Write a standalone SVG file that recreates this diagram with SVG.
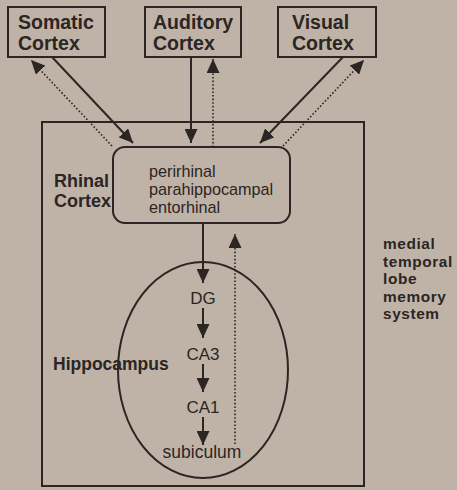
<svg xmlns="http://www.w3.org/2000/svg" width="457" height="490" viewBox="0 0 457 490">
<defs>
<style>
.box{fill:none;stroke:#2b2523;stroke-width:2}
.lbl{font-family:"Liberation Sans",Arial,sans-serif;font-weight:bold;fill:#2b2523}
.txt{font-family:"Liberation Sans",Arial,sans-serif;fill:#2b2523}
.solid{stroke:#2b2523;stroke-width:2;fill:none}
.dot{stroke:#2b2523;stroke-width:1.6;fill:none;stroke-dasharray:1.6 2}
</style>
<marker id="ah" markerUnits="userSpaceOnUse" markerWidth="14" markerHeight="13" refX="14" refY="6.5" orient="auto">
<path d="M0,0 L14,6.5 L0,13 Z" fill="#2b2523"/>
</marker>
</defs>
<rect width="457" height="490" fill="#bfb3a8"/>
<g id="outer"><rect class="box" x="42" y="122" width="322" height="364" stroke-width="2.5"/></g>
<g id="somatic"><rect class="box" x="8" y="7" width="97" height="50"/>
<text class="lbl" font-size="19.5" x="18" y="29">Somatic</text>
<text class="lbl" font-size="19.5" x="18" y="50">Cortex</text></g>
<g id="auditory"><rect class="box" x="145" y="7" width="96" height="50"/>
<text class="lbl" font-size="19.5" x="153" y="29">Auditory</text>
<text class="lbl" font-size="19.5" x="153" y="50">Cortex</text></g>
<g id="visual"><rect class="box" x="278" y="7" width="98" height="50"/>
<text class="lbl" font-size="19.5" x="292" y="29">Visual</text>
<text class="lbl" font-size="19.5" x="292" y="50">Cortex</text></g>
<g id="rhinal"><rect class="box" x="113" y="147" width="177" height="76" rx="12"/>
<text class="txt" font-size="16.2" x="149" y="177">perirhinal</text>
<text class="txt" font-size="16.2" x="149" y="195">parahippocampal</text>
<text class="txt" font-size="16.2" x="149" y="213">entorhinal</text>
<text class="lbl" font-size="18" x="54" y="187">Rhinal</text>
<text class="lbl" font-size="18" x="54" y="207">Cortex</text></g>
<g id="hippocampus"><ellipse class="box" cx="203" cy="370" rx="85" ry="108"/>
<text class="lbl" font-size="17.5" x="53" y="370">Hippocampus</text>
<text class="txt" font-size="17" x="203" y="304" text-anchor="middle">DG</text>
<text class="txt" font-size="17" x="203" y="360" text-anchor="middle">CA3</text>
<text class="txt" font-size="17" x="203" y="413" text-anchor="middle">CA1</text>
<text class="txt" font-size="17.5" x="202" y="458" text-anchor="middle">subiculum</text></g>
<g id="mtl"><text class="lbl" font-size="15.4" letter-spacing="0.6"><tspan x="383" y="249">medial</tspan><tspan x="383" y="266.5">temporal</tspan><tspan x="383" y="284">lobe</tspan><tspan x="383" y="301.5">memory</tspan><tspan x="383" y="319">system</tspan></text></g>
<g id="connectors">
<line class="solid" x1="52" y1="57" x2="133" y2="143" marker-end="url(#ah)"/>
<line class="dot" x1="112" y1="146" x2="31" y2="60" marker-end="url(#ah)"/>
<line class="solid" x1="191" y1="57" x2="191" y2="143" marker-end="url(#ah)"/>
<line class="dot" x1="213" y1="147" x2="213" y2="59" marker-end="url(#ah)"/>
<line class="solid" x1="343" y1="57" x2="260" y2="143" marker-end="url(#ah)"/>
<line class="dot" x1="283" y1="146" x2="364" y2="60" marker-end="url(#ah)"/>
<line class="solid" x1="203" y1="223" x2="203" y2="283" marker-end="url(#ah)"/>
<line class="solid" x1="203" y1="308" x2="203" y2="338" marker-end="url(#ah)"/>
<line class="solid" x1="203" y1="364" x2="203" y2="392" marker-end="url(#ah)"/>
<line class="solid" x1="203" y1="417" x2="203" y2="445" marker-end="url(#ah)"/>
<line class="dot" x1="235" y1="444" x2="235" y2="234" marker-end="url(#ah)"/>
</g>
</svg>
